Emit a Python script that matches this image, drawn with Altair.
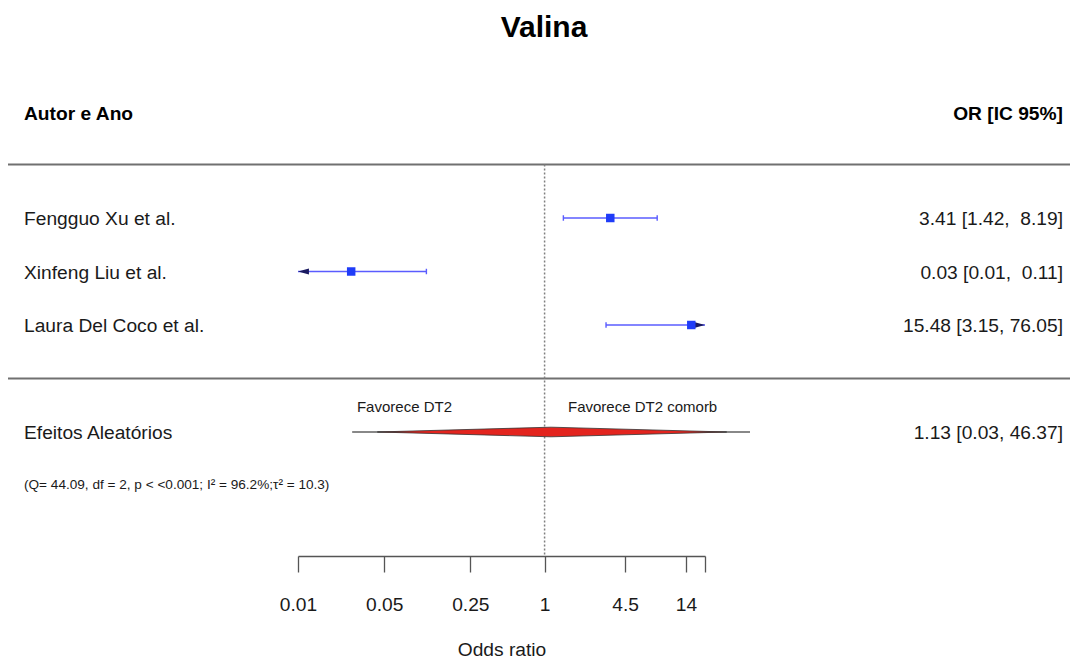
import altair as alt
import pandas as pd

# ---------------- data ----------------
title_text = "Valina"
header_left = "Autor e Ano"
header_right = "OR [IC 95%]"

studies = ["Fengguo Xu et al.", "Xinfeng Liu et al.", "Laura Del Coco et al."]
or_est = [3.41, 0.027, 15.48]
ci_lo = [1.42, 0.0067, 3.15]
ci_hi = [8.19, 0.11, 76.05]
study_labels = ["3.41 [1.42,\u00a0 8.19]", "0.03 [0.01,\u00a0 0.11]", "15.48 [3.15, 76.05]"]

re_name = "Efeitos Aleatórios"
re_est = [1.13]
re_ci_lo = [0.0275]
re_ci_hi = [46.37]
re_diamond_lo = [0.044]
re_diamond_hi = [30.0]
re_label = "1.13 [0.03, 46.37]"
het_text = "(Q= 44.09, df = 2, p < <0.001; I\u00b2 = 96.2%;\u03c4\u00b2 = 10.3)"

favor_left = "Favorece DT2"
favor_right = "Favorece DT2 comorb"

axis_ticks = [0.01, 0.05, 0.25, 1, 4.5, 14, 20]
x_limits = [0.01, 20]
x_title = "Odds ratio"

# ---------------- styles ----------------
FONT = "Liberation Sans"
FS = 19.2
TXT = "#1a1a1a"
n = len(studies)
diamond_half = 0.09   # half height of summary diamond, in row units

xscale = alt.Scale(type="log", domain=x_limits, range=[298, 705], nice=False)
xaxis = alt.Axis(values=axis_ticks, format="~g",
                 labelExpr="datum.value > 19 ? '' : datum.label",
                 grid=False, tickSize=16, labelPadding=23, labelFlush=False,
                 labelOverlap=False, titlePadding=26, title=x_title)
yscale = alt.Scale(domain=[-3.075, 7.318], reverse=True, nice=False, zero=False)


def X(field):
    return alt.X(field, type="quantitative", scale=xscale, axis=xaxis, title=x_title)


def X2(field):
    return alt.X2(field)


def Y(field):
    return alt.Y(field, type="quantitative", scale=yscale, axis=None)


# ---------------- tables ----------------
sdf = pd.DataFrame({
    "name": studies, "est": or_est, "lo": ci_lo, "hi": ci_hi,
    "label": study_labels, "k": list(range(1, n + 1)),
})
sdf["lo_c"] = sdf["lo"].clip(lower=x_limits[0])
sdf["hi_c"] = sdf["hi"].clip(upper=x_limits[1])

caps = pd.concat([
    pd.DataFrame({"x": sdf.loc[sdf.lo >= x_limits[0], "lo"], "k": sdf.loc[sdf.lo >= x_limits[0], "k"]}),
    pd.DataFrame({"x": sdf.loc[sdf.hi <= x_limits[1], "hi"], "k": sdf.loc[sdf.hi <= x_limits[1], "k"]}),
])
arrows_left = pd.DataFrame({"x": [x_limits[0]] * int((sdf.lo < x_limits[0]).sum()),
                            "k": sdf.loc[sdf.lo < x_limits[0], "k"].tolist()})
arrows_right = pd.DataFrame({"x": [x_limits[1]] * int((sdf.hi > x_limits[1]).sum()),
                             "k": sdf.loc[sdf.hi > x_limits[1], "k"].tolist()})

k_re = n + 2
re_df = pd.DataFrame({"lo": re_ci_lo, "hi": re_ci_hi, "k": [k_re]})
diamond = pd.DataFrame({
    "x": [re_diamond_lo[0], re_est[0], re_diamond_hi[0]],
    "y": [k_re, k_re - diamond_half, k_re],
    "y2": [k_re, k_re + diamond_half, k_re],
})

left_text = pd.DataFrame({"label": studies + [re_name], "k": list(range(1, n + 1)) + [k_re]})
right_text = pd.DataFrame({"label": study_labels + [re_label], "k": list(range(1, n + 1)) + [k_re]})
header = pd.DataFrame({"l": [header_left], "r": [header_right], "k": [-1]})
seps = pd.DataFrame({"k": [0, n + 1]})
refline = pd.DataFrame({"x": [1], "k": [0]})
het = pd.DataFrame({"label": [het_text], "k": [n + 3]})
fav = pd.DataFrame({"l": [favor_left], "r": [favor_right], "k": [n + 1.5]})
ttl = pd.DataFrame({"t": [title_text]})

# ---------------- layers ----------------
title_l = alt.Chart(ttl).mark_text(fontSize=30, fontWeight="bold", font=FONT, color="#000",
                                   align="center", baseline="middle").encode(
    x=alt.value(544), y=alt.value(28), text="t:N")

head_l = alt.Chart(header).mark_text(fontSize=FS, fontWeight="bold", font=FONT, color="#000",
                                     align="left", baseline="middle", dy=3).encode(
    x=alt.value(24), y=Y("k"), text="l:N")
head_r = alt.Chart(header).mark_text(fontSize=FS, fontWeight="bold", font=FONT, color="#000",
                                     align="right", baseline="middle", dy=3).encode(
    x=alt.value(1063), y=Y("k"), text="r:N")

sep_l = alt.Chart(seps).mark_rule(color="#707070", strokeWidth=2).encode(
    x=alt.value(8), x2=alt.value(1070), y=Y("k"))

ref_l = alt.Chart(refline).mark_rule(color="#808080", strokeWidth=1.5, strokeDash=[2, 2]).encode(
    x=X("x"), y=Y("k"), y2=alt.value(556))

ci_l = alt.Chart(sdf).mark_rule(color="#5a5cff", strokeWidth=1.4).encode(
    x=X("lo_c"), x2=X2("hi_c"), y=Y("k"))

cap_l = alt.Chart(caps).mark_point(shape="M0,-1L0,1", size=30, stroke="#5a5cff",
                                   strokeWidth=1.4, filled=False, opacity=1).encode(
    x=X("x"), y=Y("k"))

arrow_l = alt.Chart(arrows_left).mark_point(shape="M0,0L4,-1.1L4,1.1Z", size=30, filled=True,
                                            color="#1a1a60", opacity=1).encode(
    x=X("x"), y=Y("k"))
arrow_r = alt.Chart(arrows_right).mark_point(shape="M0,0L-4,-1.1L-4,1.1Z", size=30, filled=True,
                                             color="#1a1a60", opacity=1).encode(
    x=X("x"), y=Y("k"))

sq_l = alt.Chart(sdf).mark_square(size=72, color="#1f3cf8", opacity=1).encode(
    x=X("est"), y=Y("k"))

re_line = alt.Chart(re_df).mark_rule(color="#606060", strokeWidth=1.4).encode(
    x=X("lo"), x2=X2("hi"), y=Y("k"))

dia_l = alt.Chart(diamond).mark_area(color="#e3241e", stroke="#333333", strokeWidth=0.8,
                                     opacity=1).encode(
    x=X("x"), y=Y("y"), y2=alt.Y2("y2"))

names_l = alt.Chart(left_text).mark_text(fontSize=FS, font=FONT, color=TXT, align="left",
                                         baseline="middle", dy=1).encode(
    x=alt.value(24), y=Y("k"), text="label:N")
vals_l = alt.Chart(right_text).mark_text(fontSize=FS, font=FONT, color=TXT, align="right",
                                         baseline="middle", dy=1).encode(
    x=alt.value(1063), y=Y("k"), text="label:N")

het_l = alt.Chart(het).mark_text(fontSize=13.6, font=FONT, color=TXT, align="left",
                                 baseline="middle").encode(
    x=alt.value(24), y=Y("k"), text="label:N")

fav_left_l = alt.Chart(fav).mark_text(fontSize=15, font=FONT, color=TXT, align="right",
                                      baseline="middle", dy=2).encode(
    x=alt.value(452), y=Y("k"), text="l:N")
fav_right_l = alt.Chart(fav).mark_text(fontSize=15, font=FONT, color=TXT, align="left",
                                       baseline="middle", dy=2).encode(
    x=alt.value(568), y=Y("k"), text="r:N")

chart = alt.layer(
    sep_l, ref_l, re_line, dia_l, ci_l, cap_l, arrow_l, arrow_r, sq_l,
    title_l, head_l, head_r, names_l, vals_l, het_l, fav_left_l, fav_right_l,
).properties(
    width=1070, height=556,
    padding={"left": 0, "right": 0, "top": 0, "bottom": 103},
    autosize=alt.AutoSizeParams(type="none"),
    background="white",
).configure_view(strokeWidth=0).configure_axis(
    labelFont=FONT, labelFontSize=FS, labelColor=TXT,
    titleFont=FONT, titleFontSize=FS, titleFontWeight="normal", titleColor=TXT,
    domainColor="#555555", domainWidth=1.3, tickColor="#555555", tickWidth=1.3,
)

chart.save("out.html", embed_options={"renderer": "svg", "actions": False})
